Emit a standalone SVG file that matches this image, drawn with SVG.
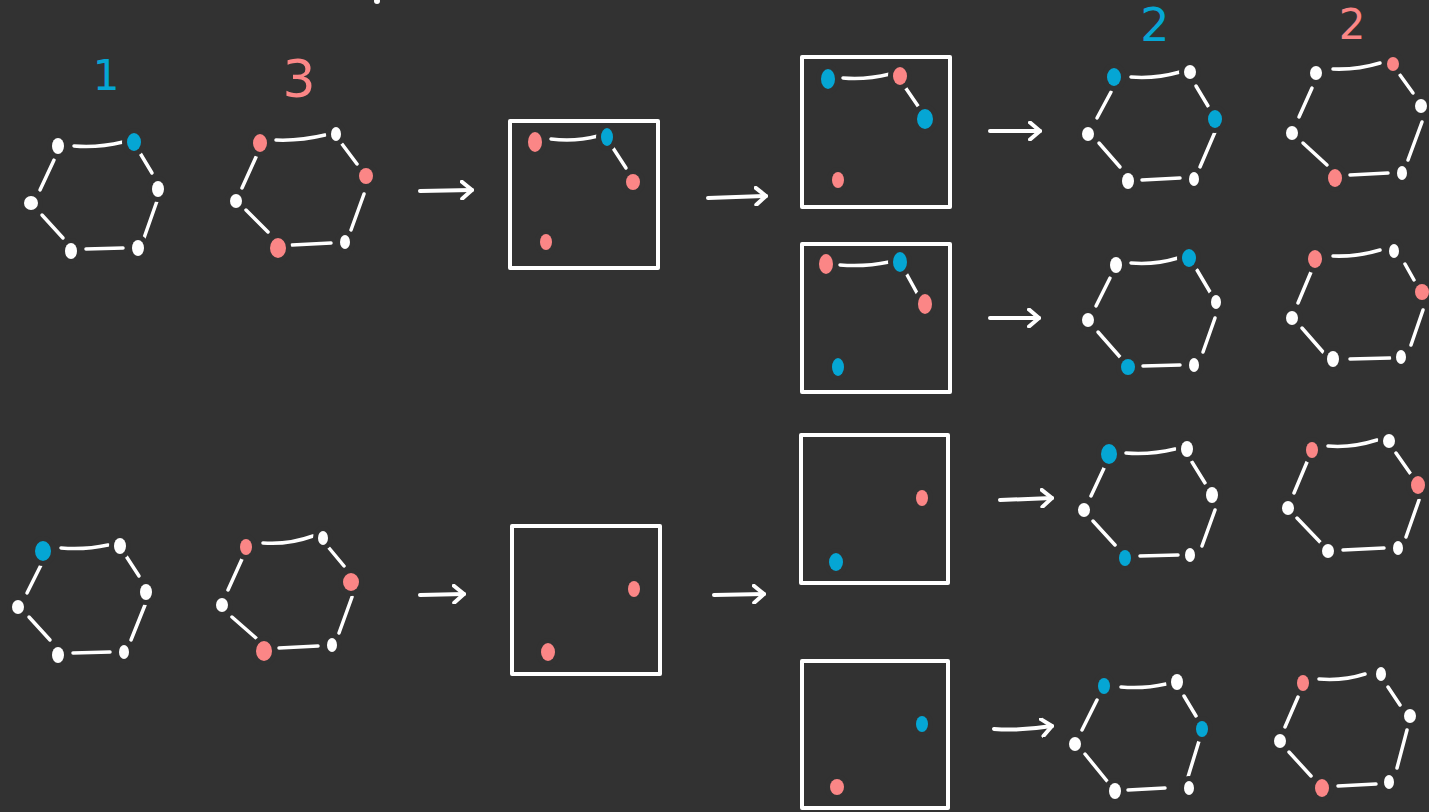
<svg xmlns="http://www.w3.org/2000/svg" width="1429" height="812" viewBox="0 0 1429 812">
<defs>
<style>
.e{stroke:#fff;stroke-width:3.5;stroke-linecap:round;fill:none}
ellipse{stroke:#323232;stroke-width:10;paint-order:stroke}
.w{fill:#fff}
.b{fill:#05a6d4}
.p{fill:#fb8686}
.box{fill:none;stroke:#fff;stroke-width:4;stroke-linejoin:round}
.arr{stroke:#fff;stroke-width:4;fill:none;stroke-linecap:round}
.n{font-family:"DejaVu Sans",sans-serif;text-anchor:middle}
</style>
<marker id="ah" viewBox="0 0 14 20" refX="12" refY="10" markerWidth="14" markerHeight="20" markerUnits="userSpaceOnUse" orient="auto">
<path d="M2,1.5 L12,10 L2,18.5" fill="none" stroke="#fff" stroke-width="4" stroke-linecap="round" stroke-linejoin="round"/>
</marker>
</defs>
<rect width="1429" height="812" fill="#323232"/>
<ellipse class="w" cx="377" cy="1" rx="3" ry="3" style="stroke:none"/>

<g id="labels">
<text class="n" x="106" y="90" font-size="42" fill="#05a6d4">1</text>
<text class="n" x="299" y="97" font-size="52" fill="#fb8686">3</text>
<text class="n" x="1155" y="41" font-size="46" fill="#05a6d4">2</text>
<text class="n" x="1352" y="39" font-size="42" fill="#fb8686">2</text>
</g>

<g id="connectors">
<path class="arr" d="M420,191 L472,190" marker-end="url(#ah)"/>
<path class="arr" d="M708,198 L766,196" marker-end="url(#ah)"/>
<path class="arr" d="M990,131 L1040,131" marker-end="url(#ah)"/>
<path class="arr" d="M990,318 L1039,318" marker-end="url(#ah)"/>
<path class="arr" d="M420,595 L464,594" marker-end="url(#ah)"/>
<path class="arr" d="M714,595 L764,594" marker-end="url(#ah)"/>
<path class="arr" d="M1000,500 L1052,498" marker-end="url(#ah)"/>
<path class="arr" d="M994,729 Q1020,731 1052,726" marker-end="url(#ah)"/>
</g>

<g id="hex1">
<path class="e" d="M74,146 Q98,148 123,142 M140,153 L152,173 M157,201 L144,238 M40,190 L54,160 M42,215 L63,238 M86,249 L123,248"/>
<ellipse class="w" cx="58" cy="146" rx="6" ry="8"/>
<ellipse class="b" cx="134" cy="142" rx="7" ry="9"/>
<ellipse class="w" cx="158" cy="189" rx="6" ry="8"/>
<ellipse class="w" cx="31" cy="203" rx="7" ry="7"/>
<ellipse class="w" cx="71" cy="251" rx="6" ry="8"/>
<ellipse class="w" cx="138" cy="248" rx="6" ry="8"/>
</g>

<g id="hex2">
<path class="e" d="M276,140 Q300,141 325,135 M342,144 L357,164 M364,194 L351,230 M256,157 L242,188 M246,210 L268,232 M292,245 L331,243"/>
<ellipse class="p" cx="260" cy="143" rx="7" ry="9"/>
<ellipse class="w" cx="336" cy="134" rx="5" ry="7"/>
<ellipse class="p" cx="366" cy="176" rx="7" ry="8"/>
<ellipse class="w" cx="236" cy="201" rx="6" ry="7"/>
<ellipse class="p" cx="278" cy="248" rx="8" ry="10"/>
<ellipse class="w" cx="345" cy="242" rx="5" ry="7"/>
</g>

<g id="box1">
<rect class="box" x="510" y="121" width="148" height="147"/>
<path class="e" d="M551,139 Q575,142 598,136 M613,148 L626,168"/>
<ellipse class="p" cx="535" cy="142" rx="7" ry="10"/>
<ellipse class="b" cx="607" cy="137" rx="6" ry="9"/>
<ellipse class="p" cx="633" cy="182" rx="7" ry="8"/>
<ellipse class="p" cx="546" cy="242" rx="6" ry="8"/>
</g>

<g id="box2">
<rect class="box" x="802" y="57" width="148" height="150"/>
<path class="e" d="M843,78 Q866,80 890,74 M905,87 L918,106"/>
<ellipse class="b" cx="828" cy="79" rx="7" ry="10"/>
<ellipse class="p" cx="900" cy="76" rx="7" ry="9"/>
<ellipse class="b" cx="925" cy="119" rx="8" ry="10"/>
<ellipse class="p" cx="838" cy="180" rx="6" ry="8"/>
</g>

<g id="box3">
<rect class="box" x="802" y="244" width="148" height="148"/>
<path class="e" d="M840,265 Q865,267 889,262 M906,273 L917,293"/>
<ellipse class="p" cx="826" cy="264" rx="7" ry="10"/>
<ellipse class="b" cx="900" cy="262" rx="7" ry="10"/>
<ellipse class="p" cx="925" cy="304" rx="7" ry="10"/>
<ellipse class="b" cx="838" cy="367" rx="6" ry="9"/>
</g>

<g id="box4">
<rect class="box" x="801" y="435" width="147" height="148"/>
<ellipse class="p" cx="922" cy="498" rx="6" ry="8"/>
<ellipse class="b" cx="836" cy="562" rx="7" ry="9"/>
</g>

<g id="box5">
<rect class="box" x="802" y="661" width="146" height="147"/>
<ellipse class="b" cx="922" cy="724" rx="6" ry="8"/>
<ellipse class="p" cx="837" cy="787" rx="7" ry="8"/>
</g>

<g id="box6">
<rect class="box" x="512" y="526" width="148" height="148"/>
<ellipse class="p" cx="634" cy="589" rx="6" ry="8"/>
<ellipse class="p" cx="548" cy="652" rx="7" ry="9"/>
</g>

<g id="hexA">
<path class="e" d="M1131,77 Q1155,79 1180,72 M1196,86 L1208,106 M1215,132 L1200,167 M1097,118 L1111,92 M1099,143 L1120,167 M1142,180 L1180,178"/>
<ellipse class="b" cx="1114" cy="77" rx="7" ry="9"/>
<ellipse class="w" cx="1190" cy="72" rx="6" ry="7"/>
<ellipse class="b" cx="1215" cy="119" rx="7" ry="9"/>
<ellipse class="w" cx="1088" cy="134" rx="6" ry="7"/>
<ellipse class="w" cx="1128" cy="181" rx="6" ry="8"/>
<ellipse class="w" cx="1194" cy="179" rx="5" ry="7"/>
</g>

<g id="hexB">
<path class="e" d="M1333,69 Q1357,70 1380,63 M1400,75 L1413,93 M1422,122 L1408,160 M1312,88 L1299,117 M1303,143 L1327,165 M1350,175 L1388,173"/>
<ellipse class="w" cx="1316" cy="73" rx="6" ry="7"/>
<ellipse class="p" cx="1393" cy="64" rx="6" ry="7"/>
<ellipse class="w" cx="1421" cy="106" rx="6" ry="7"/>
<ellipse class="w" cx="1292" cy="133" rx="6" ry="7"/>
<ellipse class="p" cx="1335" cy="178" rx="7" ry="9"/>
<ellipse class="w" cx="1402" cy="173" rx="5" ry="7"/>
</g>

<g id="hexC">
<path class="e" d="M1131,263 Q1155,265 1178,258 M1197,270 L1210,292 M1215,318 L1203,352 M1096,306 L1110,278 M1098,332 L1120,357 M1143,366 L1180,365"/>
<ellipse class="w" cx="1116" cy="265" rx="6" ry="8"/>
<ellipse class="b" cx="1189" cy="258" rx="7" ry="9"/>
<ellipse class="w" cx="1216" cy="302" rx="5" ry="7"/>
<ellipse class="w" cx="1088" cy="320" rx="6" ry="7"/>
<ellipse class="b" cx="1128" cy="367" rx="7" ry="8"/>
<ellipse class="w" cx="1194" cy="365" rx="5" ry="7"/>
</g>

<g id="hexD">
<path class="e" d="M1333,256 Q1357,257 1380,250 M1405,264 L1414,280 M1423,310 L1411,345 M1298,303 L1311,272 M1302,328 L1323,352 M1350,359 L1390,358"/>
<ellipse class="p" cx="1315" cy="259" rx="7" ry="9"/>
<ellipse class="w" cx="1394" cy="251" rx="5" ry="7"/>
<ellipse class="p" cx="1422" cy="292" rx="7" ry="8"/>
<ellipse class="w" cx="1292" cy="318" rx="6" ry="7"/>
<ellipse class="w" cx="1333" cy="359" rx="6" ry="8"/>
<ellipse class="w" cx="1401" cy="357" rx="5" ry="7"/>
</g>

<g id="hexE">
<path class="e" d="M1126,453 Q1150,455 1175,449 M1192,462 L1205,483 M1215,510 L1202,546 M1091,496 L1105,466 M1093,521 L1115,545 M1140,556 L1178,555"/>
<ellipse class="b" cx="1109" cy="454" rx="8" ry="10"/>
<ellipse class="w" cx="1187" cy="449" rx="6" ry="8"/>
<ellipse class="w" cx="1212" cy="495" rx="6" ry="8"/>
<ellipse class="w" cx="1084" cy="510" rx="6" ry="7"/>
<ellipse class="b" cx="1125" cy="558" rx="6" ry="8"/>
<ellipse class="w" cx="1190" cy="555" rx="5" ry="7"/>
</g>

<g id="hexF">
<path class="e" d="M1328,446 Q1352,448 1377,440 M1396,453 L1410,473 M1419,500 L1406,537 M1294,493 L1307,462 M1297,518 L1320,542 M1343,550 L1384,548"/>
<ellipse class="p" cx="1312" cy="450" rx="6" ry="8"/>
<ellipse class="w" cx="1389" cy="441" rx="6" ry="7"/>
<ellipse class="p" cx="1418" cy="485" rx="7" ry="9"/>
<ellipse class="w" cx="1288" cy="508" rx="6" ry="7"/>
<ellipse class="w" cx="1328" cy="551" rx="6" ry="7"/>
<ellipse class="w" cx="1398" cy="548" rx="5" ry="7"/>
</g>

<g id="hexG">
<path class="e" d="M1121,687 Q1144,689 1166,684 M1184,696 L1196,716 M1199,741 L1188,777 M1082,730 L1097,700 M1085,754 L1107,781 M1128,790 L1165,788"/>
<ellipse class="b" cx="1104" cy="686" rx="6" ry="8"/>
<ellipse class="w" cx="1177" cy="682" rx="6" ry="8"/>
<ellipse class="b" cx="1202" cy="729" rx="6" ry="8"/>
<ellipse class="w" cx="1075" cy="744" rx="6" ry="7"/>
<ellipse class="w" cx="1115" cy="791" rx="6" ry="8"/>
<ellipse class="w" cx="1189" cy="788" rx="5" ry="7"/>
</g>

<g id="hexH">
<path class="e" d="M1319,679 Q1343,681 1365,674 M1388,687 L1400,705 M1407,730 L1397,768 M1285,727 L1298,697 M1289,752 L1311,776 M1338,786 L1376,784"/>
<ellipse class="p" cx="1303" cy="683" rx="6" ry="8"/>
<ellipse class="w" cx="1381" cy="674" rx="5" ry="7"/>
<ellipse class="w" cx="1410" cy="716" rx="6" ry="7"/>
<ellipse class="w" cx="1280" cy="741" rx="6" ry="7"/>
<ellipse class="p" cx="1322" cy="788" rx="7" ry="9"/>
<ellipse class="w" cx="1389" cy="782" rx="5" ry="7"/>
</g>

<g id="hex3">
<path class="e" d="M61,548 Q85,550 108,545 M126,556 L139,576 M145,605 L131,640 M27,593 L41,565 M29,617 L50,640 M73,653 L110,652"/>
<ellipse class="b" cx="43" cy="551" rx="8" ry="10"/>
<ellipse class="w" cx="120" cy="546" rx="6" ry="8"/>
<ellipse class="w" cx="146" cy="592" rx="6" ry="8"/>
<ellipse class="w" cx="18" cy="607" rx="6" ry="7"/>
<ellipse class="w" cx="58" cy="655" rx="6" ry="8"/>
<ellipse class="w" cx="124" cy="652" rx="5" ry="7"/>
</g>

<g id="hex4">
<path class="e" d="M263,543 Q288,545 313,536 M329,548 L344,566 M352,597 L339,633 M228,590 L242,559 M232,617 L256,638 M279,648 L318,646"/>
<ellipse class="p" cx="246" cy="547" rx="6" ry="8"/>
<ellipse class="w" cx="323" cy="538" rx="5" ry="7"/>
<ellipse class="p" cx="351" cy="582" rx="8" ry="9"/>
<ellipse class="w" cx="222" cy="605" rx="6" ry="7"/>
<ellipse class="p" cx="264" cy="651" rx="8" ry="10"/>
<ellipse class="w" cx="332" cy="645" rx="5" ry="7"/>
</g>
</svg>
